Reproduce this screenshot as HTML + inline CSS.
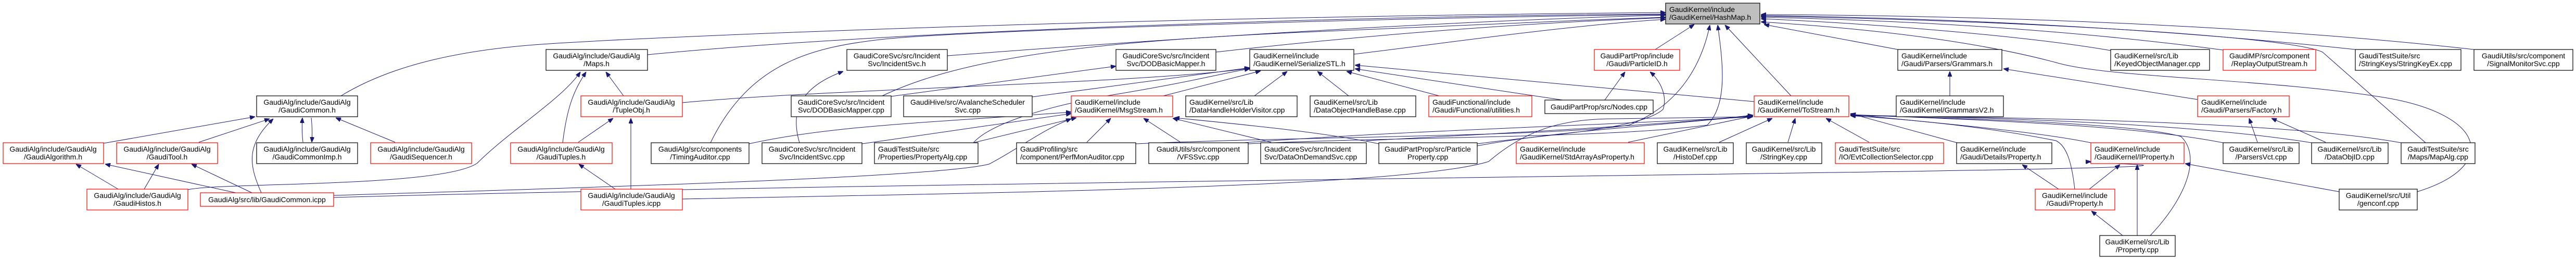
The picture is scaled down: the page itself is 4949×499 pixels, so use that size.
<!DOCTYPE html>
<html><head><meta charset="utf-8"><style>
html,body{margin:0;padding:0;background:#fff;}
svg{display:block;}
text{font-family:"Liberation Sans",sans-serif;font-size:14px;fill:#000;}
.b{fill:#fff;stroke:#000;stroke-width:1.2;}
.r{fill:#fff;stroke:#ff0000;stroke-width:1.2;}
.g{fill:#fff;stroke:#404040;stroke-width:1.6;}
.e{fill:none;stroke:#191970;stroke-width:1;}
</style></head><body>
<svg width="4949" height="499" viewBox="0 0 4949 499" xmlns="http://www.w3.org/2000/svg">
<defs><marker id="a" markerWidth="10" markerHeight="8" refX="10" refY="4" orient="auto" markerUnits="userSpaceOnUse"><path d="M0,0 L10,4 L0,8 z" fill="#191970" stroke="#191970"/></marker></defs>
<rect width="4949" height="499" fill="#fff"/>
<g class="e" marker-end="url(#a)">
<path d="M655,184 C760,120 900,95 1040,85 S2000,35 3200,24"/>
<path d="M1244,105 C1700,60 2600,30 3200,27"/>
<path d="M1365,274 C1440,120 1560,90 1700,75 S2600,35 3200,28"/>
<path d="M1820,107 C2300,70 2800,40 3200,29"/>
<path d="M1695,184 C1850,110 2100,80 2500,62 S3000,40 3200,33"/>
<path d="M2336,100 C2600,70 2900,45 3200,34"/>
<path d="M2601,104 C2800,80 3000,50 3200,37"/>
<path d="M1983,186 L2401,130"/>
<path d="M1870,274 C1900,240 2000,205 2150,180 S2350,140 2401,132"/>
<path d="M1311,197 C1600,170 2200,160 2401,131"/>
<path d="M1712,185 L2144,127"/>
<path d="M2235,184 L2422,136"/>
<path d="M2410,184 L2473,137"/>
<path d="M2591,184 L2531,137"/>
<path d="M2765,184 L2587,137"/>
<path d="M3002,192 L2603,132"/>
<path d="M3370,195 L2603,125"/>
<path d="M3083,192 L3122,138"/>
<path d="M3180,95 L3255,47"/>
<path d="M2838,276 C2950,260 3150,250 3195,210 C3205,180 3185,150 3170,138"/>
<path d="M2182,276 C2500,262 3000,262 3130,240 C3230,200 3270,120 3285,48"/>
<path d="M2398,276 C2700,262 3100,265 3280,240 C3320,200 3310,120 3300,48"/>
<path d="M3441,184 L3314,48"/>
<path d="M3646,95 L3389,47"/>
<path d="M4055,97 C3900,70 3600,45 3383,36"/>
<path d="M4271,96 C4000,60 3700,40 3383,33"/>
<path d="M4525,95 C4200,60 3800,35 3383,30"/>
<path d="M4753,95 C4400,55 3900,30 3383,28"/>
<path d="M4660,274 L4462,100 C4400,70 3900,40 3383,31"/>
<path d="M4644,368 C4800,320 4780,220 4580,187 C4350,150 4050,150 3950,120 C3800,80 3600,55 3383,42"/>
<path d="M3746,184 L3746,137"/>
<path d="M4222,191 L3849,132"/>
<path d="M4337,273 L4321,227"/>
<path d="M4468,273 L4364,227"/>
<path d="M3760,274 L3555,218"/>
<path d="M4017,274 C3900,250 3700,235 3555,219"/>
<path d="M4271,274 C4100,240 3800,230 3555,220"/>
<path d="M4441,274 C4200,235 3800,225 3555,221"/>
<path d="M4613,274 C4400,235 3900,225 3555,222"/>
<path d="M3986,363 C3980,310 3970,280 3950,270 C3800,240 3650,228 3555,222"/>
<path d="M4131,452 C4200,380 4230,300 4190,262 C4100,235 3700,225 3555,221"/>
<path d="M3955,363 L3885,316"/>
<path d="M4014,363 L4073,316"/>
<path d="M4078,452 L4018,405"/>
<path d="M4106,452 L4106,316"/>
<path d="M4494,368 L4198,314"/>
<path d="M641,379 C1500,355 3000,340 3720,328 S3950,315 4017,310"/>
<path d="M3128,273 L3366,223"/>
<path d="M3303,273 L3405,227"/>
<path d="M3435,273 L3449,227"/>
<path d="M3591,273 L3508,227"/>
<path d="M2838,280 C3000,250 3200,240 3368,222"/>
<path d="M2625,270 C2900,255 3200,240 3368,221"/>
<path d="M2390,274 C2700,250 3100,240 3368,224"/>
<path d="M2649,276 C2550,255 2400,240 2256,226"/>
<path d="M2442,273 L2253,227"/>
<path d="M1439,276 C1600,240 1800,235 2058,215"/>
<path d="M1656,276 L2058,218"/>
<path d="M1870,274 L2068,226"/>
<path d="M2088,273 L2134,227"/>
<path d="M2268,273 L2197,227"/>
<path d="M1311,382 C1900,370 2700,360 2860,310 C2930,250 3000,228 3100,228 L3368,224"/>
<path d="M641,375 C1200,358 1800,340 1900,315 C1950,290 2000,250 2058,228"/>
<path d="M199,275 L490,224"/>
<path d="M382,273 L518,228"/>
<path d="M502,370 C480,320 470,280 525,228"/>
<path d="M582,273 C580,255 580,240 581,226"/>
<path d="M598,226 C600,245 600,260 599,273"/>
<path d="M759,273 L645,226"/>
<path d="M227,363 L146,315"/>
<path d="M277,363 L305,315"/>
<path d="M453,370 L202,315"/>
<path d="M484,370 L368,315"/>
<path d="M361,364 C420,350 850,360 917,313 C980,250 1080,190 1115,138"/>
<path d="M1081,274 C1090,200 1105,170 1126,138"/>
<path d="M1198,184 L1164,138"/>
<path d="M1111,273 L1178,227"/>
<path d="M1182,363 L1112,315"/>
<path d="M1212,363 L1212,227"/>
<path d="M1536,274 C1520,220 1530,170 1620,137"/>
</g>

<!-- nodes -->
<rect x="3200" y="6" width="181" height="40" fill="#bfbfbf" stroke="#000" stroke-width="1.2"/><text x="3207" y="23">GaudiKernel/include</text><text x="3207" y="38">/GaudiKernel/HashMap.h</text>

<rect class="b" x="493" y="184" width="194" height="40"/><text x="590" y="201" text-anchor="middle">GaudiAlg/include/GaudiAlg</text><text x="590" y="216" text-anchor="middle">/GaudiCommon.h</text>
<rect class="r" x="6" y="274" width="193" height="40"/><text x="102" y="291" text-anchor="middle">GaudiAlg/include/GaudiAlg</text><text x="102" y="306" text-anchor="middle">/GaudiAlgorithm.h</text>
<rect class="r" x="224" y="274" width="194" height="40"/><text x="321" y="291" text-anchor="middle">GaudiAlg/include/GaudiAlg</text><text x="321" y="306" text-anchor="middle">/GaudiTool.h</text>
<rect class="g" x="493" y="274" width="194" height="40"/><text x="590" y="291" text-anchor="middle">GaudiAlg/include/GaudiAlg</text><text x="590" y="306" text-anchor="middle">/GaudiCommonImp.h</text>
<rect class="r" x="712" y="274" width="194" height="40"/><text x="809" y="291" text-anchor="middle">GaudiAlg/include/GaudiAlg</text><text x="809" y="306" text-anchor="middle">/GaudiSequencer.h</text>
<rect class="r" x="981" y="274" width="195" height="40"/><text x="1078" y="291" text-anchor="middle">GaudiAlg/include/GaudiAlg</text><text x="1078" y="306" text-anchor="middle">/GaudiTuples.h</text>
<rect class="r" x="167" y="363" width="194" height="40"/><text x="264" y="380" text-anchor="middle">GaudiAlg/include/GaudiAlg</text><text x="264" y="395" text-anchor="middle">/GaudiHistos.h</text>
<rect class="r" x="385" y="370" width="256" height="26"/><text x="513" y="388" text-anchor="middle">GaudiAlg/src/lib/GaudiCommon.icpp</text>
<rect class="b" x="1049" y="95" width="195" height="40"/><text x="1146" y="112" text-anchor="middle">GaudiAlg/include/GaudiAlg</text><text x="1146" y="127" text-anchor="middle">/Maps.h</text>
<rect class="r" x="1116" y="184" width="195" height="40"/><text x="1213" y="201" text-anchor="middle">GaudiAlg/include/GaudiAlg</text><text x="1213" y="216" text-anchor="middle">/TupleObj.h</text>
<rect class="r" x="1116" y="363" width="195" height="40"/><text x="1213" y="380" text-anchor="middle">GaudiAlg/include/GaudiAlg</text><text x="1213" y="395" text-anchor="middle">/GaudiTuples.icpp</text>

<rect class="b" x="1627" y="95" width="193" height="40"/><text x="1723" y="112" text-anchor="middle">GaudiCoreSvc/src/Incident</text><text x="1723" y="127" text-anchor="middle">Svc/IncidentSvc.h</text>
<rect class="b" x="2144" y="95" width="192" height="40"/><text x="2240" y="112" text-anchor="middle">GaudiCoreSvc/src/Incident</text><text x="2240" y="127" text-anchor="middle">Svc/DODBasicMapper.h</text>
<rect class="b" x="2401" y="95" width="200" height="40"/><text x="2408" y="112">GaudiKernel/include</text><text x="2408" y="127">/GaudiKernel/SerializeSTL.h</text>
<rect class="b" x="1520" y="184" width="192" height="40"/><text x="1616" y="201" text-anchor="middle">GaudiCoreSvc/src/Incident</text><text x="1616" y="216" text-anchor="middle">Svc/DODBasicMapper.cpp</text>
<rect class="b" x="1736" y="184" width="247" height="40"/><text x="1859" y="201" text-anchor="middle">GaudiHive/src/AvalancheScheduler</text><text x="1859" y="216" text-anchor="middle">Svc.cpp</text>
<rect class="r" x="2058" y="184" width="195" height="40"/><text x="2065" y="201">GaudiKernel/include</text><text x="2065" y="216">/GaudiKernel/MsgStream.h</text>
<rect class="b" x="2278" y="184" width="214" height="40"/><text x="2285" y="201">GaudiKernel/src/Lib</text><text x="2285" y="216">/DataHandleHolderVisitor.cpp</text>
<rect class="b" x="2517" y="184" width="203" height="40"/><text x="2524" y="201">GaudiKernel/src/Lib</text><text x="2524" y="216">/DataObjectHandleBase.cpp</text>
<rect class="r" x="2745" y="184" width="198" height="40"/><text x="2752" y="201">GaudiFunctional/include</text><text x="2752" y="216">/Gaudi/Functional/utilities.h</text>
<rect class="b" x="2968" y="192" width="208" height="26"/><text x="3072" y="210" text-anchor="middle">GaudiPartProp/src/Nodes.cpp</text>
<rect class="r" x="3063" y="95" width="164" height="40"/><text x="3145" y="112" text-anchor="middle">GaudiPartProp/include</text><text x="3145" y="127" text-anchor="middle">/Gaudi/ParticleID.h</text>
<rect class="r" x="3370" y="184" width="182" height="40"/><text x="3377" y="201">GaudiKernel/include</text><text x="3377" y="216">/GaudiKernel/ToStream.h</text>
<rect class="b" x="3646" y="95" width="200" height="40"/><text x="3653" y="112">GaudiKernel/include</text><text x="3653" y="127">/Gaudi/Parsers/Grammars.h</text>
<rect class="b" x="3643" y="184" width="206" height="40"/><text x="3650" y="201">GaudiKernel/include</text><text x="3650" y="216">/GaudiKernel/GrammarsV2.h</text>

<rect class="b" x="1251" y="274" width="188" height="40"/><text x="1345" y="291" text-anchor="middle">GaudiAlg/src/components</text><text x="1345" y="306" text-anchor="middle">/TimingAuditor.cpp</text>
<rect class="b" x="1464" y="274" width="192" height="40"/><text x="1560" y="291" text-anchor="middle">GaudiCoreSvc/src/Incident</text><text x="1560" y="306" text-anchor="middle">Svc/IncidentSvc.cpp</text>
<rect class="b" x="1680" y="274" width="199" height="40"/><text x="1687" y="291">GaudiTestSuite/src</text><text x="1687" y="306">/Properties/PropertyAlg.cpp</text>
<rect class="b" x="1953" y="274" width="229" height="40"/><text x="1960" y="291">GaudiProfiling/src</text><text x="1960" y="306">/component/PerfMonAuditor.cpp</text>
<rect class="b" x="2207" y="274" width="191" height="40"/><text x="2302" y="291" text-anchor="middle">GaudiUtils/src/component</text><text x="2302" y="306" text-anchor="middle">/VFSSvc.cpp</text>
<rect class="b" x="2422" y="274" width="203" height="40"/><text x="2429" y="291">GaudiCoreSvc/src/Incident</text><text x="2429" y="306">Svc/DataOnDemandSvc.cpp</text>
<rect class="b" x="2649" y="274" width="189" height="40"/><text x="2743" y="291" text-anchor="middle">GaudiPartProp/src/Particle</text><text x="2743" y="306" text-anchor="middle">Property.cpp</text>
<rect class="r" x="2913" y="274" width="246" height="40"/><text x="2920" y="291">GaudiKernel/include</text><text x="2920" y="306">/GaudiKernel/StdArrayAsProperty.h</text>
<rect class="b" x="3184" y="274" width="146" height="40"/><text x="3257" y="291" text-anchor="middle">GaudiKernel/src/Lib</text><text x="3257" y="306" text-anchor="middle">/HistoDef.cpp</text>
<rect class="b" x="3355" y="274" width="145" height="40"/><text x="3427" y="291" text-anchor="middle">GaudiKernel/src/Lib</text><text x="3427" y="306" text-anchor="middle">/StringKey.cpp</text>
<rect class="r" x="3526" y="274" width="208" height="40"/><text x="3533" y="291">GaudiTestSuite/src</text><text x="3533" y="306">/IO/EvtCollectionSelector.cpp</text>
<rect class="b" x="3759" y="274" width="183" height="40"/><text x="3766" y="291">GaudiKernel/include</text><text x="3766" y="306">/Gaudi/Details/Property.h</text>
<rect class="r" x="4017" y="274" width="179" height="40"/><text x="4024" y="291">GaudiKernel/include</text><text x="4024" y="306">/GaudiKernel/IProperty.h</text>
<rect class="b" x="4271" y="274" width="146" height="40"/><text x="4344" y="291" text-anchor="middle">GaudiKernel/src/Lib</text><text x="4344" y="306" text-anchor="middle">/ParsersVct.cpp</text>
<rect class="b" x="4441" y="274" width="147" height="40"/><text x="4514" y="291" text-anchor="middle">GaudiKernel/src/Lib</text><text x="4514" y="306" text-anchor="middle">/DataObjID.cpp</text>
<rect class="b" x="4613" y="274" width="142" height="40"/><text x="4684" y="291" text-anchor="middle">GaudiTestSuite/src</text><text x="4684" y="306" text-anchor="middle">/Maps/MapAlg.cpp</text>

<rect class="b" x="4055" y="95" width="190" height="40"/><text x="4062" y="112">GaudiKernel/src/Lib</text><text x="4062" y="127">/KeyedObjectManager.cpp</text>
<rect class="r" x="4271" y="95" width="178" height="40"/><text x="4360" y="112" text-anchor="middle">GaudiMP/src/component</text><text x="4360" y="127" text-anchor="middle">/ReplayOutputStream.h</text>
<rect class="b" x="4525" y="95" width="203" height="40"/><text x="4532" y="112">GaudiTestSuite/src</text><text x="4532" y="127">/StringKeys/StringKeyEx.cpp</text>
<rect class="b" x="4753" y="95" width="190" height="40"/><text x="4848" y="112" text-anchor="middle">GaudiUtils/src/component</text><text x="4848" y="127" text-anchor="middle">/SignalMonitorSvc.cpp</text>
<rect class="r" x="4222" y="184" width="176" height="40"/><text x="4229" y="201">GaudiKernel/include</text><text x="4229" y="216">/Gaudi/Parsers/Factory.h</text>
<rect class="r" x="3910" y="363" width="153" height="40"/><text x="3986" y="380" text-anchor="middle">GaudiKernel/include</text><text x="3986" y="395" text-anchor="middle">/Gaudi/Property.h</text>
<rect class="b" x="4494" y="363" width="150" height="40"/><text x="4569" y="380" text-anchor="middle">GaudiKernel/src/Util</text><text x="4569" y="395" text-anchor="middle">/genconf.cpp</text>
<rect class="b" x="4034" y="452" width="145" height="40"/><text x="4106" y="469" text-anchor="middle">GaudiKernel/src/Lib</text><text x="4106" y="484" text-anchor="middle">/Property.cpp</text>
</svg>
</body></html>
